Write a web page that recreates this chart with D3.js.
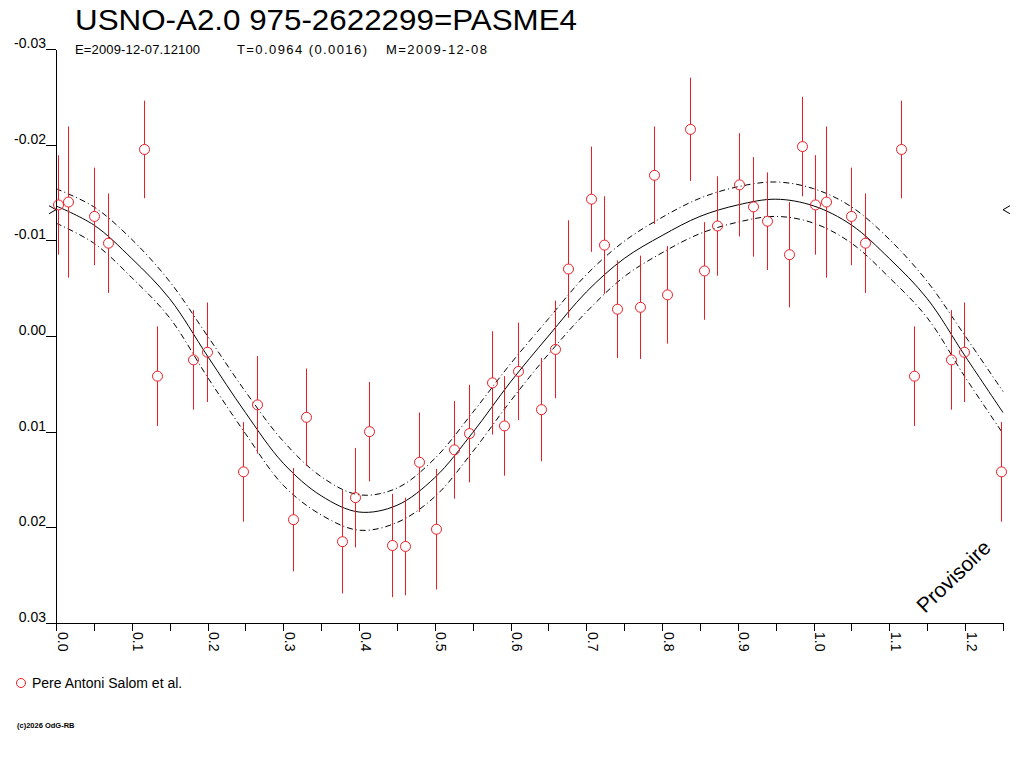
<!DOCTYPE html>
<html>
<head>
<meta charset="utf-8">
<script src="https://cdn.jsdelivr.net/npm/d3@7"></script>
<style>
    body { margin: 0; background: #fff; }
    svg { display: block; }
    text { font-family: "Liberation Sans", Arial, sans-serif; fill: #000; }
</style>
</head>
<body>
<svg id="chart" width="1024" height="768"></svg>
<script>
const width = 1024;
const height = 768;

const title = "USNO-A2.0 975-2622299=PASME4";
const subtitleParts = ["E=2009-12-07.12100", "T=0.0964 (0.0016)", "M=2009-12-08"];
const observer = "Pere Antoni Salom et al.";
const copyright = "(c)2026 OdG-RB";
const stamp = "Provisoire";

// measurements (phase, magnitude difference, error)
const phase = [
    0.002, 0.016, 0.050, 0.068, 0.116, 0.133, 0.181, 0.199, 0.247, 0.265,
    0.313, 0.330, 0.378, 0.395, 0.413, 0.443, 0.461, 0.479, 0.501, 0.526,
    0.545, 0.575, 0.592, 0.610, 0.640, 0.658, 0.676, 0.706, 0.723, 0.741,
    0.771, 0.789, 0.807, 0.837, 0.855, 0.872, 0.902, 0.920, 0.938, 0.968,
    0.985, 1.002, 1.016, 1.050, 1.068, 1.116, 1.133, 1.181, 1.199, 1.247
];
const mag = [
    -0.0137, -0.0140, -0.0125, -0.0097, -0.0195, 0.0042, 0.0025, 0.0017, 0.0142, 0.0072,
    0.0192, 0.0085, 0.0215, 0.0169, 0.0100, 0.0219, 0.0220, 0.0132, 0.0202, 0.0119,
    0.0102, 0.0049, 0.0094, 0.0037, 0.0077, 0.0014, -0.0070, -0.0143, -0.0095, -0.0028,
    -0.0030, -0.0168, -0.0043, -0.0216, -0.0068, -0.0115, -0.0158, -0.0135, -0.0120, -0.0085,
    -0.0198, -0.0137, -0.0140, -0.0125, -0.0097, -0.0195, 0.0042, 0.0025, 0.0017, 0.0142
];
const magErr = [
    0.0052, 0.0079, 0.0051, 0.0052, 0.0051, 0.0052, 0.0052, 0.0052, 0.0052, 0.0051,
    0.0054, 0.0051, 0.0054, 0.0052, 0.0052, 0.0054, 0.0051, 0.0052, 0.0063, 0.0051,
    0.0051, 0.0054, 0.0052, 0.0051, 0.0054, 0.0051, 0.0051, 0.0055, 0.0051, 0.0051,
    0.0054, 0.0051, 0.0051, 0.0054, 0.0051, 0.0052, 0.0054, 0.0052, 0.0051, 0.0055,
    0.0052, 0.0052, 0.0079, 0.0051, 0.0052, 0.0051, 0.0052, 0.0052, 0.0052, 0.0052
];

// fitted light curve and its confidence band
const fitPhase = [
    0.00, 0.05, 0.10, 0.15, 0.20, 0.25, 0.30, 0.35, 0.40, 0.45, 0.50, 0.55, 0.60,
    0.65, 0.70, 0.75, 0.80, 0.85, 0.90, 0.95, 1.00, 1.05, 1.10, 1.15, 1.20, 1.25
];
const fitMag = [
    -0.0136, -0.0116, -0.0081, -0.0039, 0.0021, 0.0080, 0.0133, 0.0167, 0.0184, 0.0177, 0.0148, 0.0101, 0.0048,
    0.0000, -0.0046, -0.0081, -0.0105, -0.0125, -0.0137, -0.0143, -0.0136, -0.0116, -0.0081, -0.0039, 0.0021, 0.0080
];
const fitUpper = [
    -0.0154, -0.0135, -0.0101, -0.0057, 0.0000, 0.0058, 0.0110, 0.0147, 0.0166, 0.0159, 0.0128, 0.0080, 0.0029,
    -0.0018, -0.0064, -0.0099, -0.0124, -0.0144, -0.0156, -0.0161, -0.0154, -0.0135, -0.0101, -0.0057, 0.0000, 0.0058
];
const fitLower = [
    -0.0118, -0.0097, -0.0061, -0.0019, 0.0043, 0.0102, 0.0156, 0.0187, 0.0203, 0.0195, 0.0168, 0.0121, 0.0068,
    0.0019, -0.0025, -0.0062, -0.0087, -0.0107, -0.0119, -0.0125, -0.0118, -0.0097, -0.0061, -0.0019, 0.0043, 0.0102
];
const refMag = -0.0132;

const xTicks = [
    0.00, 0.05, 0.10, 0.15, 0.20, 0.25, 0.30, 0.35, 0.40, 0.45, 0.50, 0.55, 0.60,
    0.65, 0.70, 0.75, 0.80, 0.85, 0.90, 0.95, 1.00, 1.05, 1.10, 1.15, 1.20, 1.25
];
const xTickLabels = ["0.0", "0.1", "0.2", "0.3", "0.4", "0.5", "0.6", "0.7", "0.8", "0.9", "1.0", "1.1", "1.2"];
const yTicks = [-0.03, -0.02, -0.01, 0.00, 0.01, 0.02, 0.03];
const yTickLabels = ["-0.03", "-0.02", "-0.01", "0.00", "0.01", "0.02", "0.03"];

const red = "#ec1c24";

const svg = d3.select("#chart");

const xScale = d3.scaleLinear().domain([0, 1.25]).range([56, 1003]);
const yScale = d3.scaleLinear().domain([-0.03, 0.03]).range([49, 623]);

// title block
svg.append("text")
    .text(title)
    .attr("x", 75)
    .attr("y", 30)
    .attr("font-size", 30)
    .attr("textLength", 502)
    .attr("lengthAdjust", "spacingAndGlyphs");
const subX = [75, 237, 386];
const subW = [125, 130, 101];
subtitleParts.forEach((s, i) => {
    svg.append("text")
        .text(s)
        .attr("x", subX[i])
        .attr("y", 54)
        .attr("font-size", 13)
        .attr("textLength", subW[i])
        .attr("lengthAdjust", "spacing");
});

// x axis
let xAxis = d3.axisBottom(xScale)
    .tickValues(xTicks)
    .tickSize(8)
    .tickSizeOuter(0)
    .tickFormat((d, i) => (i % 2 === 0 ? xTickLabels[i / 2] || "" : ""));
const gx = svg.append("g")
    .attr("class", "xAxis")
    .attr("transform", "translate(0," + yScale(0.03) + ")")
    .call(xAxis);
gx.selectAll("line, path").attr("stroke", "#000").attr("shape-rendering", "crispEdges");
gx.selectAll("text")
    .attr("font-size", 14)
    .attr("font-family", "Liberation Sans, Arial, sans-serif")
    .attr("fill", "#000")
    .attr("text-anchor", "start")
    .attr("dy", null)
    .attr("x", 9)
    .attr("y", -1)
    .attr("transform", "rotate(90)");

// y axis
let yAxis = d3.axisLeft(yScale)
    .tickValues(yTicks)
    .tickSize(10)
    .tickSizeOuter(0)
    .tickFormat((d, i) => yTickLabels[i]);
const gy = svg.append("g")
    .attr("class", "yAxis")
    .attr("transform", "translate(" + xScale(0) + ",0)")
    .call(yAxis);
gy.selectAll("line, path").attr("stroke", "#000").attr("shape-rendering", "crispEdges");
gy.selectAll("text")
    .attr("font-size", 14)
    .attr("font-family", "Liberation Sans, Arial, sans-serif")
    .attr("fill", "#000")
    .attr("x", -10)
    .attr("dy", "-1.5");

// reference level markers
const yRef = yScale(refMag);
svg.append("path")
    .attr("d", `M${xScale(0) - 7},${yRef - 4}L${xScale(0)},${yRef}L${xScale(0) - 7},${yRef + 4}`)
    .attr("fill", "none")
    .attr("stroke", "#000");
svg.append("path")
    .attr("d", `M${xScale(1.25) + 7},${yRef - 4}L${xScale(1.25)},${yRef}L${xScale(1.25) + 7},${yRef + 4}`)
    .attr("fill", "none")
    .attr("stroke", "#000");

// fit curve and band
const fitLine = (vals) => d3.line()
    .x((d, i) => xScale(fitPhase[i]))
    .y((d) => yScale(d))
    .curve(d3.curveCatmullRom)(vals);
svg.append("path")
    .attr("d", fitLine(fitMag))
    .attr("fill", "none")
    .attr("stroke", "#000")
    .attr("stroke-width", 1);
[fitUpper, fitLower].forEach((band) => {
    svg.append("path")
        .attr("d", fitLine(band))
        .attr("fill", "none")
        .attr("stroke", "#000")
        .attr("stroke-width", 1)
        .attr("stroke-dasharray", "6,3,1,3");
});

// observations
const r = 5;
const obs = phase.map((p, i) => ({ p: p, m: mag[i], e: magErr[i] }));
const gObs = svg.append("g");
gObs.selectAll(".bar-top")
    .data(obs)
    .enter()
    .append("line")
    .attr("x1", (d) => Math.round(xScale(d.p)) + 0.5)
    .attr("x2", (d) => Math.round(xScale(d.p)) + 0.5)
    .attr("y1", (d) => yScale(d.m - d.e))
    .attr("y2", (d) => yScale(d.m) - r)
    .attr("stroke", red);
gObs.selectAll(".bar-bottom")
    .data(obs)
    .enter()
    .append("line")
    .attr("x1", (d) => Math.round(xScale(d.p)) + 0.5)
    .attr("x2", (d) => Math.round(xScale(d.p)) + 0.5)
    .attr("y1", (d) => yScale(d.m) + r)
    .attr("y2", (d) => yScale(d.m + d.e))
    .attr("stroke", red);
gObs.selectAll("circle")
    .data(obs)
    .enter()
    .append("circle")
    .attr("cx", (d) => Math.round(xScale(d.p)) + 0.5)
    .attr("cy", (d) => yScale(d.m))
    .attr("r", r)
    .attr("fill", "none")
    .attr("stroke", red);

// legend
svg.append("circle")
    .attr("cx", 21)
    .attr("cy", 683)
    .attr("r", 4.5)
    .attr("fill", "none")
    .attr("stroke", red);
svg.append("text")
    .text(observer)
    .attr("x", 32)
    .attr("y", 688)
    .attr("font-size", 14);

svg.append("text")
    .text(copyright)
    .attr("x", 17)
    .attr("y", 728)
    .attr("font-size", 7.5)
    .attr("font-weight", "bold");

svg.append("text")
    .text(stamp)
    .attr("transform", "translate(925,614) rotate(-44)")
    .attr("font-size", 21);
</script>
</body>
</html>
